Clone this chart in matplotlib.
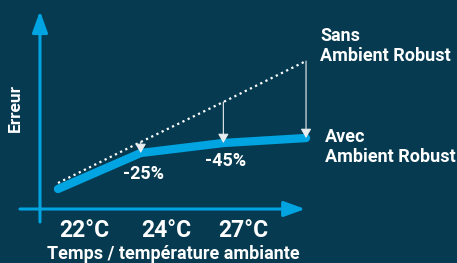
import matplotlib
matplotlib.use('Agg')
import matplotlib.pyplot as pl

# chart data (arbitrary error units, time steps 0..3)
steps = [0, 1, 2, 3]
sans_robust = [26, 67, 107, 148]
avec_robust = [20, 56, 66, 71]
arrow_steps = [1, 2, 3]
gain_labels = ['-25%', '-45%']
gain_pos = [(1.03, 30), (2.03, 43)]
tick_pos = [0.315, 1.306, 2.244]
tick_labels = ['22°C', '24°C', '27°C']

bg = '#053a50'
blue = '#00a4e1'
white = '#ffffff'

pl.rcParams['font.family'] = ['Roboto', 'DejaVu Sans']

fig = pl.figure(figsize=(4.57, 2.63), dpi=100, facecolor=bg)
ax = fig.add_axes([0, 0, 1, 1])
ax.set_facecolor(bg)
ax.set_xlim(-0.7016, 4.826)
ax.set_ylim(-54, 209)
ax.axis('off')

# axes drawn as arrows
ax.annotate('', xy=(-0.218, 198), xytext=(-0.218, -13),
            arrowprops=dict(arrowstyle='-|>,head_length=1.3,head_width=0.47',
                            mutation_scale=10, lw=2.2, color=blue,
                            shrinkA=0, shrinkB=0))
ax.annotate('', xy=(2.99, 0), xytext=(-0.46, 0),
            arrowprops=dict(arrowstyle='-|>,head_length=1.3,head_width=0.47',
                            mutation_scale=10, lw=2.2, color=blue,
                            shrinkA=0, shrinkB=0))

# without / with
ax.plot(steps, sans_robust, color=white, lw=1.6, linestyle=(0, (1, 1.6)),
        dash_capstyle='butt')
ax.plot(steps, avec_robust, color=blue, lw=6, solid_capstyle='round',
        solid_joinstyle='round')

for s in arrow_steps:
    ax.annotate('', xy=(s, avec_robust[s]), xytext=(s, sans_robust[s]),
                arrowprops=dict(arrowstyle='-|>,head_length=0.55,head_width=0.32',
                                mutation_scale=10, lw=0.8, color='#e8eef0',
                                shrinkA=0, shrinkB=0))

for lab, (x, y) in zip(gain_labels, gain_pos):
    ax.text(x, y, lab, color=white, fontsize=13, fontweight='bold',
            ha='center', va='baseline')

ax.text(3.169, 168, 'Sans', color=white, fontsize=13, fontweight='bold',
        ha='left', va='baseline')
ax.text(3.169, 148, 'Ambient Robust', color=white, fontsize=13,
        fontweight='bold', ha='left', va='baseline')
ax.text(3.23, 67, 'Avec', color=white, fontsize=13, fontweight='bold',
        ha='left', va='baseline')
ax.text(3.23, 47, 'Ambient Robust', color=white, fontsize=13,
        fontweight='bold', ha='left', va='baseline')

for x, lab in zip(tick_pos, tick_labels):
    ax.text(x, -28, lab, color=white, fontsize=16.5, fontweight='bold',
            ha='center', va='baseline')

ax.text(1.391, -50, 'Temps / température ambiante', color=white,
        fontsize=13, fontweight='bold', ha='center', va='baseline')
ax.text(-0.52, 101, 'Erreur', color=white, fontsize=12.5, fontweight='bold',
        rotation=90, ha='center', va='center')

fig.savefig('out.png', dpi=100, facecolor=bg)
